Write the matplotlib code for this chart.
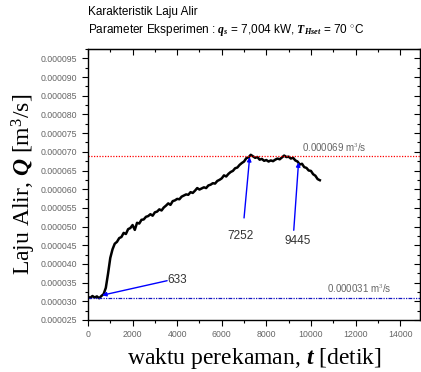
import numpy as np
import matplotlib
matplotlib.use('Agg')
import matplotlib.pyplot as plt
from matplotlib.ticker import MultipleLocator, FormatStrFormatter

plt.rcParams['font.family'] = ['Liberation Sans', 'DejaVu Sans']
plt.rcParams['mathtext.fontset'] = 'custom'
plt.rcParams['mathtext.rm'] = 'Liberation Serif'
plt.rcParams['mathtext.it'] = 'Liberation Serif:italic:bold'
plt.rcParams['mathtext.bf'] = 'Liberation Serif:bold'

# waktu (detik) dan laju alir (x 1e-6 m3/s)
waktu = [0, 100, 200, 300, 400, 500, 600, 700, 800, 900,
         1000, 1100, 1200, 1300, 1400, 1500, 1600, 1700, 1800, 1900,
         2000, 2100, 2200, 2300, 2400, 2500, 2600, 2700, 2800, 2900,
         3000, 3100, 3200, 3300, 3400, 3500, 3600, 3700, 3800, 3900,
         4000, 4100, 4200, 4300, 4400, 4500, 4600, 4700, 4800, 4900,
         5000, 5100, 5200, 5300, 5400, 5500, 5600, 5700, 5800, 5900,
         6000, 6100, 6200, 6300, 6400, 6500, 6600, 6700, 6800, 6900,
         7000, 7100, 7200, 7300, 7400, 7500, 7600, 7700, 7800, 7900,
         8000, 8100, 8200, 8300, 8400, 8500, 8600, 8700, 8800, 8900,
         9000, 9100, 9200, 9300, 9400, 9500, 9600, 9700, 9800, 9900,
         10000, 10100, 10200, 10300, 10400]
laju = [31.2, 30.9, 31.4, 31.0, 31.3, 30.8, 31.4, 31.9, 33.6, 37.4,
        41.6, 43.9, 45.4, 45.9, 46.9, 47.2, 48.3, 48.0, 49.3, 49.6,
        50.4, 49.1, 51.0, 50.8, 51.8, 51.9, 52.6, 52.8, 53.3, 52.9,
        53.8, 54.0, 54.6, 54.3, 55.1, 55.6, 56.2, 55.8, 56.8, 57.0,
        57.4, 57.3, 58.0, 58.3, 58.6, 58.5, 59.2, 59.0, 59.6, 60.3,
        59.9, 60.2, 60.5, 60.3, 61.0, 61.2, 61.6, 61.5, 62.2, 62.5,
        62.9, 63.7, 63.4, 64.1, 64.6, 64.9, 65.6, 65.8, 66.5, 67.0,
        67.4, 68.3, 68.5, 69.2, 68.8, 68.4, 68.6, 67.9, 68.1, 67.6,
        67.8, 67.4, 67.7, 67.5, 67.9, 68.2, 68.0, 68.5, 69.0, 68.6,
        68.7, 68.2, 68.4, 67.7, 67.4, 66.6, 66.8, 65.9, 65.7, 65.0,
        64.9, 64.0, 63.6, 62.7, 62.4]

q_maks = 0.000069
q_awal = 0.000031
titik_t = [633, 7252, 9445]
titik_q = [31.6, 68.6, 67.2]

fig = plt.figure(figsize=(4.21, 3.72), dpi=100)
ax = fig.add_axes([0.209, 0.140, 0.789, 0.728])

Q = np.array(laju) * 1e-6
ax.plot(waktu, Q, color='black', lw=1.8)

ax.axhline(q_maks, color='red', lw=0.9, ls=(0, (1, 1.2)))
ax.axhline(q_awal, color='#1010c0', lw=0.9, ls=(0, (3, 1, 1, 1, 1, 1)))
ax.text(9600, q_maks + 0.5e-6, '0.000069 m$^3$/s', fontsize=7, color='#666666', va='bottom')
ax.text(10700, q_awal + 0.6e-6, '0.000031 m$^3$/s', fontsize=7, color='#666666', va='bottom')

# panah penanda
awal_panah = [(3550, 35.5), (7000, 52.3), (9230, 49.0)]
posisi_teks = [(3550, 35.8), (6830, 47.6), (9420, 46.2)]
for i in range(3):
    ax.annotate('', xy=(titik_t[i], titik_q[i] * 1e-6),
                xytext=(awal_panah[i][0], awal_panah[i][1] * 1e-6),
                arrowprops=dict(arrowstyle='-|>', color='blue', lw=1.0,
                                mutation_scale=6, shrinkA=0, shrinkB=0))
    if i == 0:
        ax.text(posisi_teks[i][0], posisi_teks[i][1] * 1e-6, str(titik_t[i]),
                fontsize=8.5, color='#333333', ha='left', va='center')
    else:
        ax.text(posisi_teks[i][0], posisi_teks[i][1] * 1e-6, str(titik_t[i]),
                fontsize=8.5, color='#333333', ha='center', va='center')

ax.set_xlim(0, 14900)
ax.set_ylim(0.000025, 0.0000975)
ax.xaxis.set_major_locator(MultipleLocator(2000))
ax.xaxis.set_minor_locator(MultipleLocator(1000))
ax.yaxis.set_major_locator(MultipleLocator(0.000005))
ax.yaxis.set_minor_locator(MultipleLocator(0.0000025))
ax.yaxis.set_major_formatter(FormatStrFormatter('%.6f'))
ax.tick_params(axis='both', which='both', labelsize=6.3, labelcolor='#666666',
               direction='out', width=0.8)
ax.tick_params(which='major', length=4)
ax.tick_params(which='minor', length=2.5)
# sisi atas dan kanan: tick ke dalam
sec_x = ax.secondary_xaxis('top')
sec_x.xaxis.set_major_locator(MultipleLocator(2000))
sec_x.xaxis.set_minor_locator(MultipleLocator(1000))
sec_x.tick_params(which='both', direction='in', labeltop=False, width=0.8)
sec_x.tick_params(which='major', length=4)
sec_x.tick_params(which='minor', length=2.5)
sec_y = ax.secondary_yaxis('right')
sec_y.yaxis.set_major_locator(MultipleLocator(0.000005))
sec_y.yaxis.set_minor_locator(MultipleLocator(0.0000025))
sec_y.tick_params(which='both', direction='in', labelright=False, width=0.8)
sec_y.tick_params(which='major', length=4)
sec_y.tick_params(which='minor', length=2.5)
for s in ax.spines.values():
    s.set_linewidth(1.0)

ax.set_xlabel('waktu perekaman, $t$ [detik]', fontsize=17, family='Liberation Serif', labelpad=5)
ax.set_ylabel('Laju Alir, $Q$ [m$^3$/s]', fontsize=17, family='Liberation Serif', labelpad=2)

fig.text(0.209, 0.968, 'Karakteristik Laju Alir', fontsize=8.5, va='center')
fig.text(0.209, 0.919, 'Parameter Eksperimen : $q_s$ = 7,004 kW, $T_{Hset}$ = 70 $^{\\circ}$C',
         fontsize=8.5, va='center')

fig.savefig('out.png', dpi=100)
